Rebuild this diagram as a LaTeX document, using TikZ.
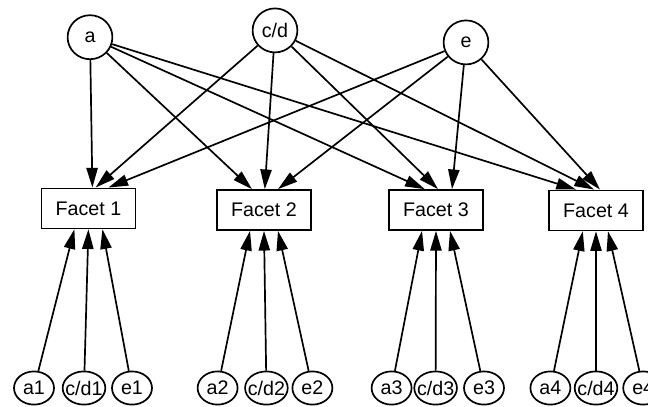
\documentclass[tikz,border=0pt]{standalone}
\usepackage{fontspec}
\setmainfont{Liberation Sans}
\usepackage{tikz}
\usetikzlibrary{shapes.geometric,arrows.meta}

\begin{document}
\begin{tikzpicture}[
    font=\fontsize{14}{16}\selectfont,
    every path/.style={line width=1.2pt},
    latent/.style={draw,ellipse,minimum width=1.12cm,minimum height=1.1cm,inner sep=1pt},
    item/.style={draw,ellipse,minimum width=1cm,minimum height=0.83cm,inner xsep=-2.5pt,inner ysep=0pt},
    facet/.style={draw,rectangle,minimum width=2.35cm,minimum height=1cm},
    edge/.style={-{Triangle[length=14pt,width=8pt]}}]
    \useasboundingbox (0,0) rectangle (16.2,-10.15);

    \node[latent] (a) at (2.25,-0.93) {a};
    \node[latent] (cd) at (6.875,-0.76) {c/d};
    \node[latent] (e) at (11.65,-1.06) {e};

    \node[facet] (f1) at (2.21,-5.21) {Facet 1};
    \node[facet] (f2) at (6.6,-5.25) {Facet 2};
    \node[facet] (f3) at (10.9,-5.25) {Facet 3};
    \node[facet] (f4) at (14.9,-5.26) {Facet 4};

    \node[item] (a1) at (0.85,-9.7) {a1};
    \node[item] (cd1) at (2.1,-9.7) {c/d1};
    \node[item] (e1) at (3.3,-9.7) {e1};
    \node[item] (a2) at (5.44,-9.7) {a2};
    \node[item] (cd2) at (6.66,-9.7) {c/d2};
    \node[item] (e2) at (7.81,-9.7) {e2};
    \node[item] (a3) at (9.79,-9.7) {a3};
    \node[item] (cd3) at (10.89,-9.7) {c/d3};
    \node[item] (e3) at (12.1,-9.7) {e3};
    \node[item] (a4) at (13.76,-9.7) {a4};
    \node[item] (cd4) at (14.9,-9.7) {c/d4};
    \node[item] (e4) at (16.08,-9.7) {e4};

    \draw[edge] (a) -- ([xshift=0.1cm]f1.north);
    \draw[edge] (a) -- ([xshift=-0.3cm]f2.north);
    \draw[edge] (a) -- ([xshift=-0.28cm]f3.north);
    \draw[edge] (a) -- ([xshift=-0.5cm]f4.north);
    \draw[edge] (cd) -- ([xshift=0.18cm]f1.north);
    \draw[edge] (cd) -- ([xshift=0.02cm]f2.north);
    \draw[edge] (cd) -- ([xshift=0.05cm]f3.north);
    \draw[edge] (cd) -- ([xshift=-0.05cm]f4.north);
    \draw[edge] (e) -- ([xshift=0.5cm]f1.north);
    \draw[edge] (e) -- ([xshift=0.35cm]f2.north);
    \draw[edge] (e) -- ([xshift=0.4cm]f3.north);
    \draw[edge] (e) -- ([xshift=0.1cm]f4.north);

    \draw[edge] (a1) -- ([xshift=-0.35cm]f1.south);
    \draw[edge] (cd1) -- (f1.south);
    \draw[edge] (e1) -- ([xshift=0.35cm]f1.south);
    \draw[edge] (a2) -- ([xshift=-0.35cm]f2.south);
    \draw[edge] (cd2) -- (f2.south);
    \draw[edge] (e2) -- ([xshift=0.35cm]f2.south);
    \draw[edge] (a3) -- ([xshift=-0.35cm]f3.south);
    \draw[edge] (cd3) -- (f3.south);
    \draw[edge] (e3) -- ([xshift=0.35cm]f3.south);
    \draw[edge] (a4) -- ([xshift=-0.33cm]f4.south);
    \draw[edge] (cd4) -- (f4.south);
    \draw[edge] (e4) -- ([xshift=0.3cm]f4.south);
\end{tikzpicture}
\end{document}
